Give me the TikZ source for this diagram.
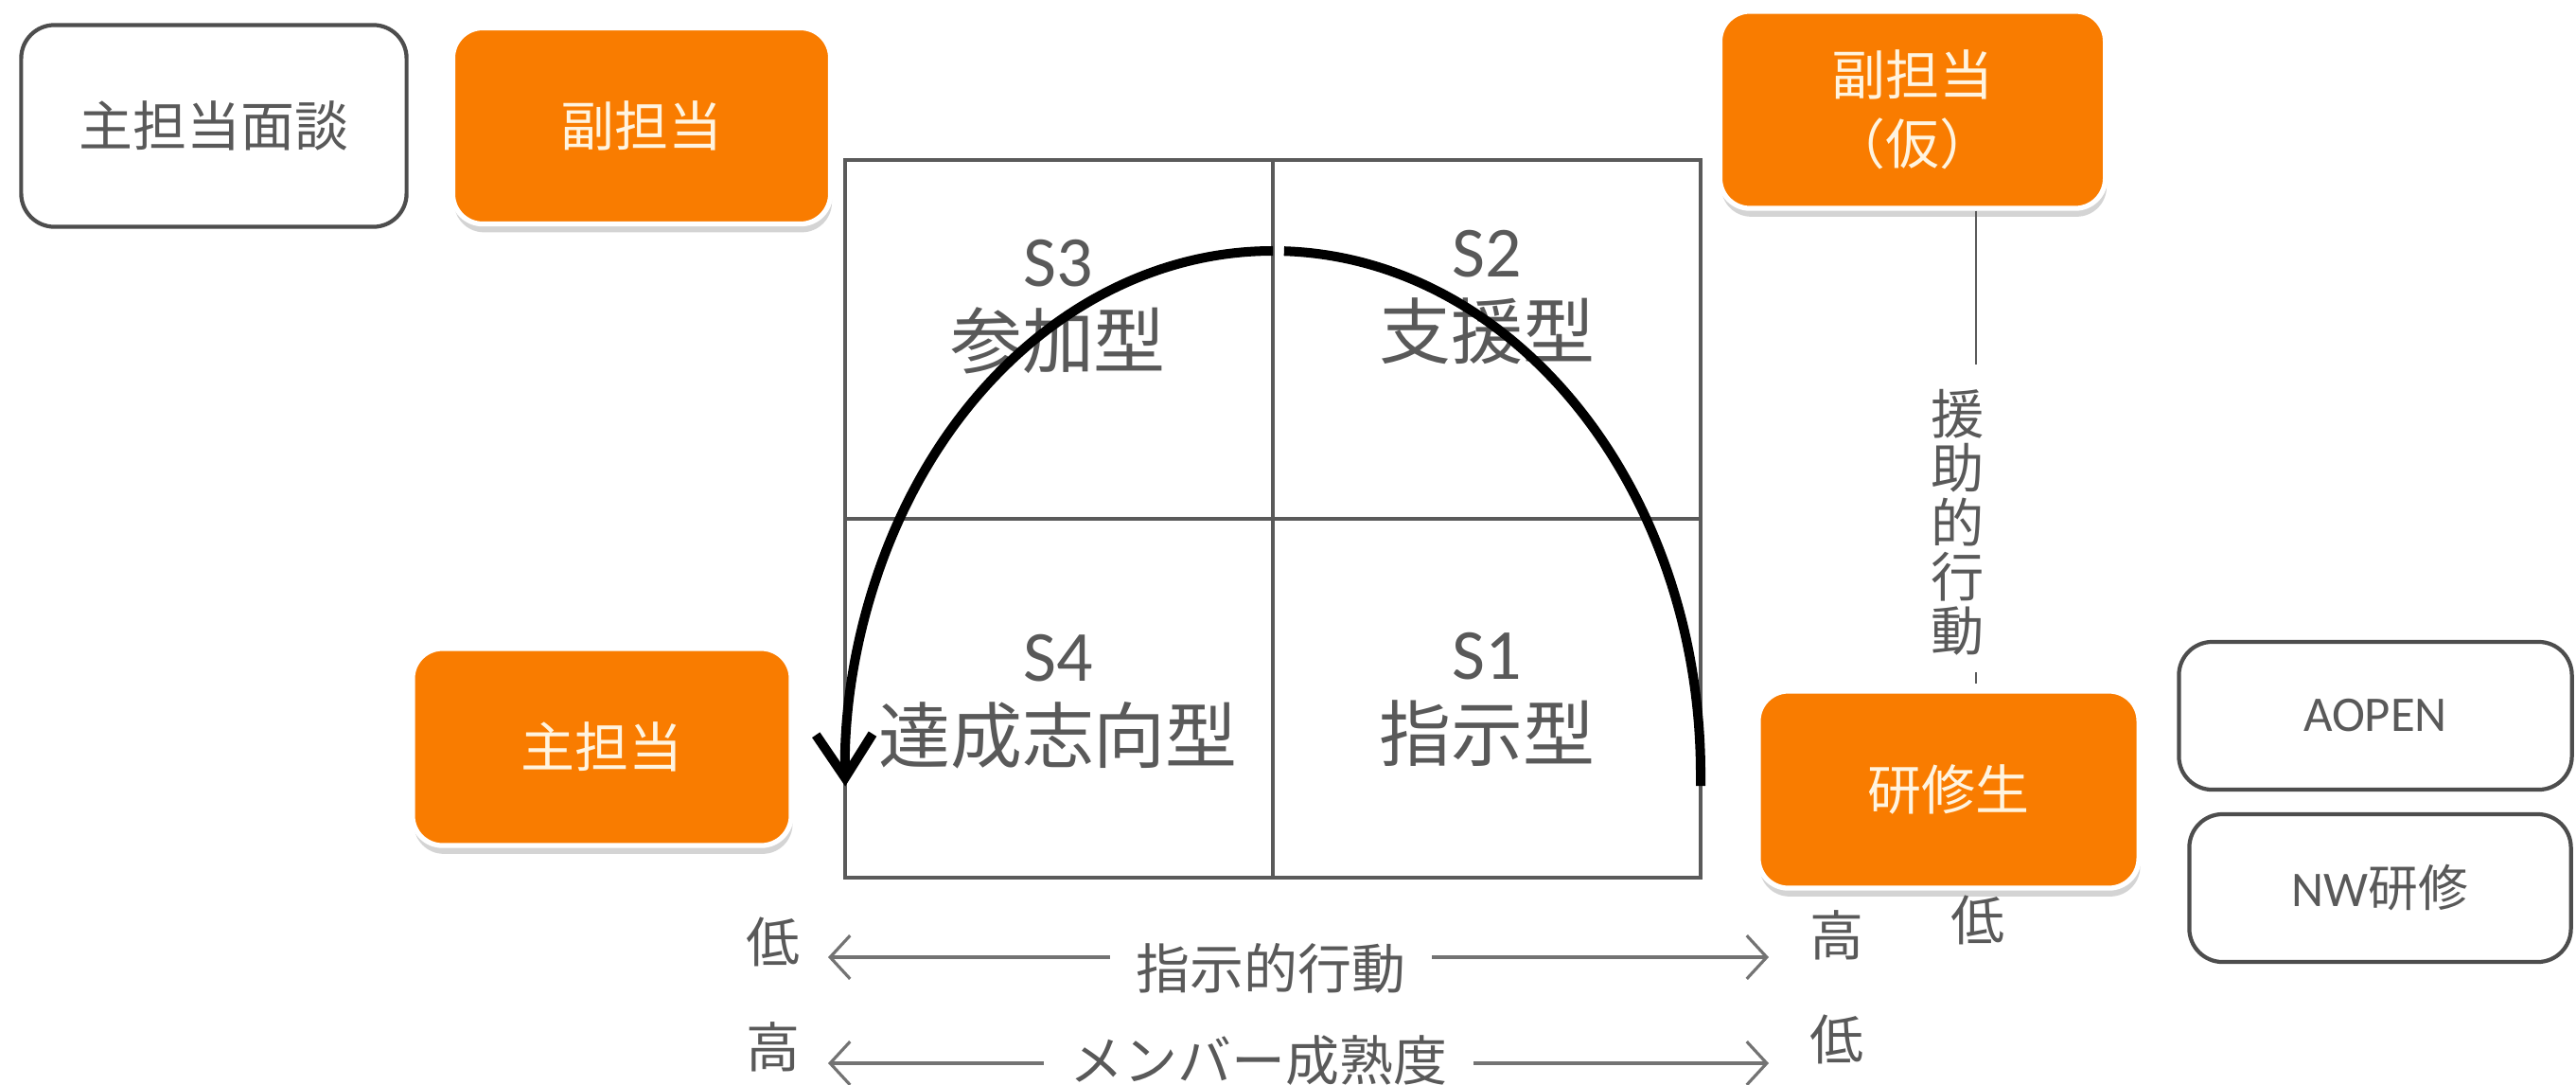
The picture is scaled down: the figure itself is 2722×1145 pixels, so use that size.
\documentclass[tikz,border=0pt]{standalone}
\usepackage{fontspec}
\setmainfont{Noto Sans CJK JP}
\newfontfamily\latf{Carlito}
\usetikzlibrary{arrows.meta,shadows}
\definecolor{ora}{RGB}{249,124,0}
\definecolor{cream}{RGB}{255,244,224}
\definecolor{tg}{HTML}{595959}
\definecolor{bd}{HTML}{4D4D4D}
\definecolor{gl}{HTML}{5A5A5A}
\newcommand\fsA{\fontsize{16.2pt}{19pt}\selectfont}
\newcommand\fsB{\fontsize{15pt}{18pt}\selectfont}
\newcommand\fsQ{\fontsize{21.6pt}{25pt}\selectfont}
\newcommand\fsV{\fontsize{16pt}{16.3pt}\selectfont}
\newcommand\fsK{\fontsize{16.2pt}{20.8pt}\selectfont}
\begin{document}
\begin{tikzpicture}[x=0.01cm,y=-0.01cm,
  orangebox/.style={rounded corners=9pt, fill=ora, draw=white, line width=1.5pt,
    text=cream, align=center, font=\fsA, inner sep=0pt,
    drop shadow={shadow xshift=0.4pt, shadow yshift=-2.5pt, opacity=0.3, fill=black!55}},
  whitebox/.style={rounded corners=10pt, draw=bd, line width=1.2pt, fill=white,
    text=tg, align=center, font=\fsA, inner sep=0pt},
  lbl/.style={text=tg, inner sep=0pt, font=\fsA},
  qt/.style={text=tg, inner sep=0pt, font=\fsQ, anchor=base},
  gridline/.style={draw=gl, line width=1pt},
  arcline/.style={draw=black, line width=2.85pt},
  axarrow/.style={draw=gl!85, line width=0.9pt, -{Straight Barb[length=6pt,width=13pt]}},
  axline/.style={draw=gl, line width=0.75pt}]
\useasboundingbox (0,0) rectangle (2722,1145);
\fill[white] (0,0) rectangle (2722,1145);

% boxes
\node[whitebox, minimum width=4.07cm, minimum height=2.13cm] (mendan) at (226,133) {主担当面談};
\node[orangebox, minimum width=3.99cm, minimum height=2.07cm] (fuku) at (678,133) {副担当};
\node[orangebox, minimum width=4.07cm, minimum height=2.08cm, font=\fsK] (fukukari) at (2021,116) {副担当\\（仮）};
\node[orangebox, minimum width=4.00cm, minimum height=2.08cm] (shu) at (636,789) {主担当};
\node[orangebox, minimum width=4.02cm, minimum height=2.08cm] (kenshu) at (2059,834) {研修生};
\node[whitebox, minimum width=4.15cm, minimum height=1.56cm, font=\fsB] (aopen) at (2510,756) {\latf AOPEN};
\node[whitebox, minimum width=4.03cm, minimum height=1.56cm, font=\fsB] (nw) at (2515,938) {{\latf NW}研修};

% grid
\draw[gridline] (893,169) rectangle (1797,927);
\draw[gridline] (1345,169) -- (1345,927);
\draw[gridline] (893,548) -- (1797,548);

% quadrant texts
\node[qt] (s3a) at (1118,302) {\latf S3};
\node[qt] (s3b) at (1118,388) {参加型};
\node[qt] (s2a) at (1571,292) {\latf S2};
\node[qt] (s2b) at (1571,378) {支援型};
\node[qt] (s4a) at (1118,719) {\latf S4};
\node[qt] (s4b) at (1118,805) {達成志向型};
\node[qt] (s1a) at (1571,717) {\latf S1};
\node[qt] (s1b) at (1571,803) {指示型};

% arc
\coordinate (arcR) at (1797,830);
\draw[arcline] (arcR) -- (1797,818) arc[start angle=0, end angle=-88.5, x radius=452, y radius=553];
\draw[arcline, -{Straight Barb[length=13pt,width=17pt]}] (1345,265)
  arc[start angle=-90, end angle=-181.3, x radius=452, y radius=553];

% vertical axis
\coordinate (vend) at (2088,385);
\draw[axline] (vend |- fukukari.south) -- (vend);
\coordinate (t1) at (2088,710);
\coordinate (t2) at (2088,722);
\draw[axline] (t1) -- (t2);
\node[lbl, align=center, font=\fsV] (enjo) at (2069,552) {援\\助\\的\\行\\動};
\node[lbl] (lo3) at (2090,972) {低};

% horizontal axes
\node[lbl] (lo1) at (817,995) {低};
\node[lbl] (hi1) at (1941,988) {高};
\node[lbl] (hi2) at (817,1106) {高};
\node[lbl] (lo2) at (1941,1098) {低};
\node[lbl, inner xsep=0.27cm] (shiji) at (1343,1023) {指示的行動};
\node[lbl, inner xsep=0.27cm] (member) at (1330,1120) {メンバー成熟度};
\coordinate (a1l) at (875,1011);
\coordinate (a1r) at (1869,1011);
\coordinate (a2l) at (875,1123);
\coordinate (a2r) at (1869,1123);
\draw[axarrow] (shiji.west |- a1l) -- (a1l);
\draw[axarrow] (shiji.east |- a1r) -- (a1r);
\draw[axarrow] (member.west |- a2l) -- (a2l);
\draw[axarrow] (member.east |- a2r) -- (a2r);
\end{tikzpicture}
\end{document}
